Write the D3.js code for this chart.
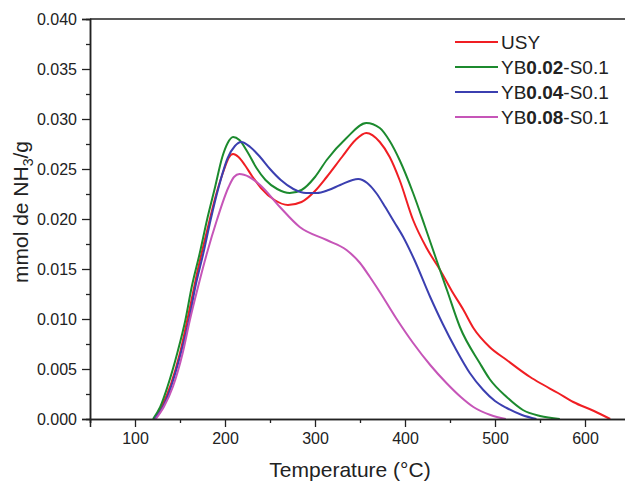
<!DOCTYPE html>
<html>
<head>
<meta charset="utf-8">
<script src="https://cdn.jsdelivr.net/npm/d3@7"></script>
<style>
  body { margin: 0; background: #fff; }
  text { font-family: Arial, "Liberation Sans", sans-serif; fill: #222; }
</style>
</head>
<body>
<div id="chart"></div>
<script>
// chart values
var seriesNames = ["USY", "YB0.02-S0.1", "YB0.04-S0.1", "YB0.08-S0.1"];
var seriesColors = ["#f01e23", "#1c8a2e", "#3b3fb0", "#c655b8"];

var usyT = [122, 130, 140, 150, 160, 170, 180, 190, 200, 204, 209, 215, 222, 230, 240, 255, 270, 285, 300, 313, 330, 345, 357, 372, 383, 394, 409, 424, 439, 452, 465, 476, 494, 513, 539, 550, 570, 587, 610, 628];
var usyV = [0, 0.0013, 0.0035, 0.0066, 0.0107, 0.0150, 0.0188, 0.0224, 0.0252, 0.0261, 0.0265, 0.0262, 0.0254, 0.0243, 0.0231, 0.0219, 0.0214, 0.0217, 0.0228, 0.0242, 0.0262, 0.0279, 0.0286, 0.0277, 0.0262, 0.0239, 0.0199, 0.0171, 0.0149, 0.0128, 0.0109, 0.0091, 0.0072, 0.0059, 0.0042, 0.0036, 0.0026, 0.0017, 0.0008, 0];

var yb02T = [120, 128, 136, 147, 156, 163, 172, 180, 189, 197, 203, 209, 216, 225, 235, 245, 258, 272, 285, 300, 313, 335, 357, 372, 383, 394, 409, 422, 435, 447, 461, 483, 494, 513, 531, 550, 572];
var yb02V = [0, 0.0012, 0.0032, 0.0066, 0.0099, 0.0132, 0.0166, 0.0199, 0.0232, 0.0262, 0.0276, 0.0282, 0.0279, 0.0267, 0.0251, 0.0239, 0.0230, 0.0226, 0.0229, 0.0242, 0.0259, 0.0281, 0.0296, 0.0291, 0.0278, 0.0259, 0.0226, 0.0193, 0.0159, 0.0128, 0.0092, 0.0056, 0.0040, 0.0022, 0.0009, 0.0003, 0];

var yb04T = [122, 131, 140, 151, 160, 167, 176, 184, 193, 203, 211, 218, 228, 239, 250, 262, 276, 290, 302, 315, 328, 348, 358, 368, 378, 388, 398, 410, 428, 442, 457, 472, 487, 500, 513, 530, 546];
var yb04V = [0, 0.0012, 0.0032, 0.0066, 0.0099, 0.0132, 0.0166, 0.0199, 0.0232, 0.0261, 0.0273, 0.0277, 0.0272, 0.0262, 0.0250, 0.0239, 0.0230, 0.0226, 0.0226, 0.0229, 0.0234, 0.0240, 0.0236, 0.0226, 0.0212, 0.0197, 0.0182, 0.0160, 0.0122, 0.0095, 0.0069, 0.0046, 0.0029, 0.0018, 0.0011, 0.0004, 0];

var yb08T = [123, 132, 142, 153, 161, 170, 180, 191, 204, 210, 216, 227, 239, 261, 283, 313, 335, 350, 361, 372, 390, 409, 428, 446, 462, 476, 495, 512];
var yb08V = [0, 0.0012, 0.0032, 0.0066, 0.0099, 0.0132, 0.0166, 0.0199, 0.0232, 0.0242, 0.0245, 0.0242, 0.0234, 0.0212, 0.0192, 0.0179, 0.0169, 0.0156, 0.0142, 0.0127, 0.0101, 0.0076, 0.0054, 0.0036, 0.0022, 0.0012, 0.0004, 0];

var seriesT = [usyT, yb02T, yb04T, yb08T];
var seriesV = [usyV, yb02V, yb04V, yb08V];

var xMajor = [100, 200, 300, 400, 500, 600];
var xMinor = [50, 150, 250, 350, 450, 550];
var yMajor = [0, 0.005, 0.010, 0.015, 0.020, 0.025, 0.030, 0.035, 0.040];
var yMinor = [0.0025, 0.0075, 0.0125, 0.0175, 0.0225, 0.0275, 0.0325, 0.0375];

var svgWidth = 625;
var svgHeight = 482;

var svg = d3.select("#chart")
  .append("svg")
  .attr("width", svgWidth)
  .attr("height", svgHeight);

svg.append("rect")
  .attr("width", svgWidth)
  .attr("height", svgHeight)
  .attr("fill", "#fff");

// plot box runs a bit past the right edge of the picture
var xScale = d3.scaleLinear().domain([50, 650]).range([90, 630]);
var yScale = d3.scaleLinear().domain([0, 0.04]).range([419, 19]);

// curves
var line = d3.line()
  .x(d => xScale(d[0]))
  .y(d => yScale(d[1]))
  .curve(d3.curveMonotoneX);

seriesT.forEach(function(ts, i) {
  var pts = ts.map((t, j) => [t, seriesV[i][j]]);
  svg.append("path")
    .datum(pts)
    .attr("fill", "none")
    .attr("stroke", seriesColors[i])
    .attr("stroke-width", 2)
    .attr("d", line);
});

// axes
var axisColor = "#222";

svg.append("g")
  .attr("transform", "translate(90,0)")
  .call(d3.axisLeft(yScale).tickValues(yMajor).tickFormat(d3.format(".3f")).tickSize(8).tickPadding(5));
svg.append("g")
  .attr("transform", "translate(90,0)")
  .call(d3.axisLeft(yScale).tickValues(yMinor).tickFormat("").tickSize(4));

svg.append("g")
  .attr("transform", "translate(0,419)")
  .call(d3.axisBottom(xScale).tickValues(xMajor).tickFormat(d3.format("d")).tickSize(8).tickPadding(6));
svg.append("g")
  .attr("transform", "translate(0,419)")
  .call(d3.axisBottom(xScale).tickValues(xMinor).tickFormat("").tickSize(4));

svg.selectAll(".domain").attr("stroke", axisColor).attr("stroke-width", 1.5);
svg.selectAll(".tick line").attr("stroke", axisColor).attr("stroke-width", 1.3);
svg.selectAll(".tick text")
  .attr("font-size", 16)
  .attr("font-family", "Arial, 'Liberation Sans', sans-serif")
  .attr("fill", "#222");

// top frame line
svg.append("line")
  .attr("x1", xScale(50)).attr("x2", xScale(650))
  .attr("y1", yScale(0.04)).attr("y2", yScale(0.04))
  .attr("stroke", axisColor)
  .attr("stroke-width", 1.5);

// axis titles
svg.append("text")
  .attr("x", 350)
  .attr("y", 477)
  .attr("text-anchor", "middle")
  .attr("font-size", 21)
  .text("Temperature (°C)");

var yTitle = svg.append("text")
  .attr("transform", "translate(28,212) rotate(-90)")
  .attr("text-anchor", "middle")
  .attr("font-size", 21);
yTitle.append("tspan").text("mmol de NH");
yTitle.append("tspan").attr("font-size", 14).attr("dy", 5).text("3");
yTitle.append("tspan").attr("dy", -5).text("/g");

// legend
var legend = svg.append("g");
seriesNames.forEach(function(name, i) {
  var ly = 42 + i * 25;
  legend.append("line")
    .attr("x1", 455).attr("x2", 498)
    .attr("y1", ly).attr("y2", ly)
    .attr("stroke", seriesColors[i])
    .attr("stroke-width", 2);
  var t = legend.append("text")
    .attr("x", 501)
    .attr("y", ly + 7)
    .attr("font-size", 19);
  var m = name.match(/^(YB)([0-9.]+)(-S0\.1)$/);
  if (m) {
    t.append("tspan").text(m[1]);
    t.append("tspan").attr("font-weight", "bold").text(m[2]);
    t.append("tspan").text(m[3]);
  } else {
    t.text(name);
  }
});
</script>
</body>
</html>
